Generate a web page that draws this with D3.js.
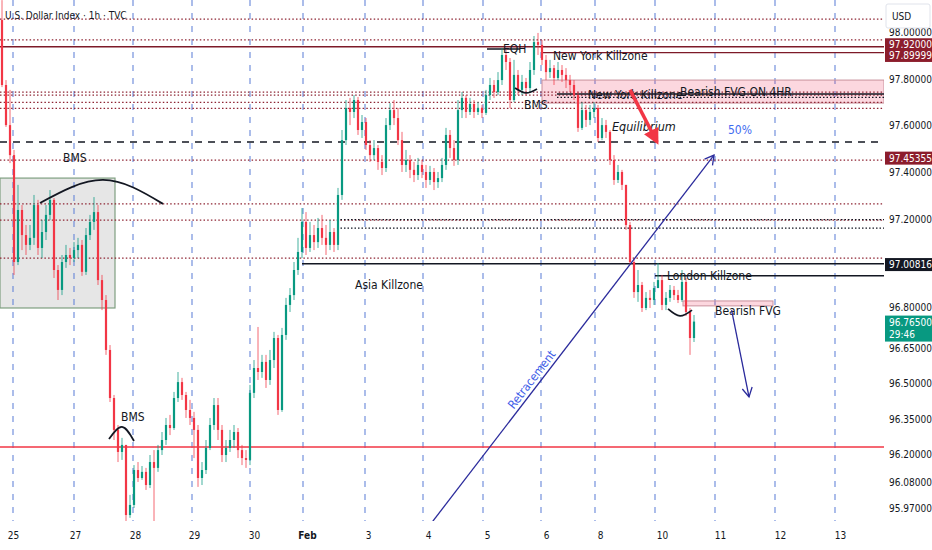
<!DOCTYPE html>
<html><head><meta charset="utf-8">
<script src="https://cdn.jsdelivr.net/npm/d3@7"></script>
<style>
body{margin:0;background:#fff}
svg{display:block}
text{font-family:"Liberation Sans Narrow","DejaVu Sans Condensed","Roboto",sans-serif}
</style>
</head><body>
<svg id="c" width="932" height="550"></svg>
<script>
// ---------- DATA ----------
const title = "U.S. Dollar Index · 1h · TVC";
const firstOpen = 98.051;
const closeP = [97.774,97.603,97.475,97.019,97.241,97.134,97.092,97.122,97.262,97.079,97.147,97.220,97.284,96.985,96.900,97.019,97.049,97.036,97.070,97.092,
96.977,97.134,97.190,97.232,96.942,96.857,96.644,96.439,96.303,96.209,96.239,95.940,95.983,96.132,96.098,96.124,96.068,96.166,96.141,96.217,
96.260,96.324,96.311,96.439,96.507,96.452,96.388,96.354,96.303,96.098,96.132,96.226,96.324,96.409,96.303,96.196,96.226,96.260,96.294,96.217,
96.183,96.175,96.461,96.567,96.550,96.593,96.516,96.601,96.695,96.388,96.708,96.836,96.878,96.985,97.062,97.190,97.079,97.134,97.104,97.164,
97.122,97.092,97.147,97.092,97.305,97.539,97.676,97.659,97.710,97.582,97.616,97.518,97.475,97.505,97.446,97.420,97.603,97.667,97.633,97.539,
97.433,97.454,97.412,97.390,97.433,97.403,97.369,97.403,97.360,97.377,97.433,97.561,97.505,97.454,97.667,97.719,97.659,97.693,97.659,97.676,
97.655,97.731,97.774,97.744,97.795,97.902,97.872,97.710,97.817,97.753,97.787,97.761,97.838,97.957,97.945,97.881,97.829,97.846,97.804,97.838,
97.817,97.795,97.774,97.731,97.591,97.667,97.625,97.659,97.676,97.548,97.603,97.574,97.454,97.369,97.403,97.348,97.177,97.019,96.891,96.921,
96.823,96.866,96.857,96.908,96.942,96.836,96.866,96.900,96.878,96.857,96.934,96.806,96.695,96.765];
const highP = [98.136,97.795,97.753,97.497,97.348,97.262,97.177,97.177,97.305,97.284,97.198,97.262,97.326,97.292,97.006,97.049,97.092,97.079,97.104,97.122,
97.113,97.164,97.220,97.296,97.262,96.964,96.878,96.665,96.452,96.324,96.269,96.217,96.026,96.153,96.166,96.149,96.141,96.196,96.217,96.239,
96.294,96.354,96.367,96.465,96.550,96.525,96.465,96.431,96.380,96.324,96.166,96.260,96.354,96.439,96.439,96.324,96.260,96.303,96.324,96.311,
96.239,96.217,96.495,96.601,96.742,96.623,96.623,96.644,96.721,96.708,96.738,96.866,96.908,97.019,97.122,97.249,97.232,97.190,97.177,97.207,
97.220,97.177,97.198,97.164,97.335,97.582,97.710,97.719,97.731,97.723,97.646,97.633,97.539,97.539,97.518,97.475,97.633,97.697,97.710,97.676,
97.574,97.497,97.475,97.446,97.463,97.454,97.433,97.429,97.420,97.403,97.463,97.591,97.582,97.539,97.710,97.744,97.731,97.719,97.710,97.701,
97.689,97.753,97.804,97.795,97.829,97.932,97.932,97.889,97.881,97.838,97.817,97.804,97.872,97.983,97.996,97.966,97.902,97.881,97.859,97.872,
97.859,97.846,97.817,97.795,97.744,97.701,97.689,97.689,97.701,97.689,97.633,97.625,97.582,97.475,97.433,97.412,97.348,97.190,97.036,96.985,
96.934,96.891,96.900,96.934,97.015,96.964,96.891,96.921,96.917,96.900,96.985,96.951,96.823,96.793];
const lowP = [97.765,97.595,97.441,96.964,97.006,97.070,97.049,97.070,97.092,97.049,97.036,97.113,97.198,96.951,96.857,96.878,96.994,97.006,97.019,97.036,
96.960,96.964,97.113,97.156,96.921,96.814,96.623,96.422,96.260,96.166,96.175,95.898,95.928,95.970,96.081,96.090,96.047,96.055,95.889,96.124,
96.196,96.239,96.281,96.303,96.422,96.431,96.354,96.324,96.183,96.060,96.068,96.115,96.217,96.303,96.260,96.166,96.166,96.209,96.226,96.183,
96.153,96.141,96.153,96.439,96.516,96.525,96.482,96.495,96.567,96.367,96.380,96.687,96.806,96.857,96.964,97.036,97.049,97.062,97.070,97.079,
97.092,97.049,97.070,97.062,97.070,97.284,97.518,97.603,97.633,97.561,97.548,97.497,97.446,97.454,97.412,97.390,97.403,97.582,97.603,97.518,
97.403,97.403,97.377,97.360,97.369,97.377,97.335,97.348,97.326,97.335,97.360,97.412,97.463,97.429,97.433,97.633,97.633,97.646,97.633,97.646,
97.633,97.646,97.710,97.719,97.731,97.774,97.838,97.676,97.701,97.731,97.731,97.731,97.744,97.817,97.902,97.859,97.795,97.804,97.774,97.795,
97.787,97.761,97.744,97.710,97.574,97.582,97.595,97.603,97.633,97.531,97.539,97.548,97.433,97.348,97.356,97.326,97.156,97.006,96.866,96.849,
96.806,96.814,96.823,96.836,96.921,96.814,96.814,96.849,96.857,96.844,96.849,96.789,96.623,96.678];

// x-axis day labels and their bar positions
const dayLabels = ["25","27","28","29","30","Feb","3","4","5","6","8","10","11","12","13"];
const dayLabelPos = [2.75,18.25,33.25,48,63,76.25,91.5,106.5,121.25,136,149.5,165,179.5,194.5,209.5];
const sessionLines = [2.75,18,32.75,47.5,62,75.25,90.75,105.25,120.25,134.75,148.25,163.25,178.25,193.25,208.25];

// price axis
const yTicks = [98.0,97.8,97.6,97.4,97.2,96.8,96.65,96.5,96.35,96.2,96.08,95.97];

// horizontal levels
const dottedLevels = [98.055,97.966,97.744,97.731,97.700,97.674,97.4536,97.267,97.198,97.036];
const maroonSolid = [{v:97.937,from:-0.5},{v:97.912,from:135}];
const blackSolid = [{v:97.928,from:121.25,to:129.5},{v:97.012,from:75},{v:96.960,from:163.25},{v:97.736,from:138.75}];
const blackDotted = [{v:97.200,from:83.75},{v:97.164,from:83.75},{v:97.721,from:138.75}];
const redLevel = 96.230;
const eqLevel = 97.531;

// zones
const grayBox = {i0:-0.5,i1:28.25,p0:97.377,p1:96.823};
const fvg4h = {i0:135,i1:220.5,p0:97.795,p1:97.697};
const fvg1h = {i0:170.25,i1:192.75,p0:96.853,p1:96.832};

// arcs (start, apex, end)
const arcs = [
  [[9.5,97.271],[25.25,97.369],[40.25,97.267]],
  [[26.75,96.264],[30,96.316],[33,96.256]],
  [[128.25,97.761],[131,97.740],[133.75,97.757]],
  [[166.5,96.819],[169.5,96.789],[172.5,96.814]]
];

// notes
const notes = [
  {t:"BMS",i:15.25,p:97.463},
  {t:"BMS",i:29.75,p:96.358},
  {t:"EQH",i:125.25,p:97.928},
  {t:"New York Killzone",i:137.75,p:97.898},
  {t:"BMS",i:130.5,p:97.689},
  {t:"New York Killzone",i:146.5,p:97.731},
  {t:"Bearish FVG ON 4HR",i:169.5,p:97.744},
  {t:"Asia Killzone",i:88.25,p:96.921},
  {t:"London Killzone",i:166.25,p:96.960},
  {t:"Bearish FVG",i:178.25,p:96.810}
];
const eqNote = {t:"Equilibrium",i:152.5,p:97.595};
const pctNote = {t:"50%",i:181.5,p:97.582};
const retrace = {t:"Retracement",from:[107,95.898],to:[178,97.475]};
const downArrow = {from:[182.4,96.814],to:[186.75,96.444]};
const redArrow = {from:[157,97.753],to:[163.75,97.531]};

// price labels on axis
const priceTags = [
  {t:"97.92000",v:97.937,bg:"#8c1d2c",dy:-2},
  {t:"97.89999",v:97.90,bg:"#8c1d2c",dy:0},
  {t:"97.45355",v:97.45355,bg:"#8c1d2c",dy:-2},
  {t:"97.00816",v:97.00816,bg:"#131722",dy:0}
];
const lastTag = {t:"96.76500",sub:"29:46",v:96.765};

// ---------- DRAW ----------
const PR = 884, PB = 521;
const svg = d3.select("#c");
const x = d3.scaleLinear().domain([-0.5,220.5]).range([0,PR]);
const y = d3.scaleLinear().domain([95.97,98.0]).range([508,32]);
const MAROON = "#8e2433", UP="#089981", DN="#f23645", NAVY="#2b2b9c";

const defs = svg.append("defs");
defs.append("clipPath").attr("id","clip").append("rect").attr("width",PR).attr("height",PB);
defs.append("marker").attr("id","chev").attr("viewBox","0 0 12 12").attr("refX",10).attr("refY",6)
  .attr("markerWidth",12).attr("markerHeight",12).attr("markerUnits","userSpaceOnUse").attr("orient","auto")
  .append("path").attr("d","M1,1 L10,6 L1,11").attr("fill","none").attr("stroke",NAVY).attr("stroke-width",1.3);
defs.append("marker").attr("id","redhead").attr("viewBox","0 0 10 10").attr("refX",8).attr("refY",5)
  .attr("markerWidth",16).attr("markerHeight",16).attr("markerUnits","userSpaceOnUse").attr("orient","auto")
  .append("path").attr("d","M0,0 L10,5 L0,10 Z").attr("fill",DN);

const g = svg.append("g").attr("clip-path","url(#clip)");

// gray box
g.append("rect").attr("x",x(grayBox.i0)).attr("y",y(grayBox.p0))
 .attr("width",x(grayBox.i1)-x(grayBox.i0)).attr("height",y(grayBox.p1)-y(grayBox.p0))
 .attr("fill","#e6e6e6").attr("stroke","#7f9f80").attr("stroke-width",1.2);

// session lines
g.selectAll("line.sess").data(sessionLines).join("line")
 .attr("x1",d=>x(d)).attr("x2",d=>x(d)).attr("y1",0).attr("y2",PB)
 .attr("stroke","#5d7fd8").attr("stroke-width",1.2).attr("stroke-dasharray","6,7").attr("opacity",0.85);

// pink zones
[fvg4h,fvg1h].forEach(z=>{
  g.append("rect").attr("x",x(z.i0)).attr("y",y(z.p0))
   .attr("width",x(z.i1)-x(z.i0)).attr("height",y(z.p1)-y(z.p0))
   .attr("fill","rgba(242,54,96,0.2)").attr("stroke","#c9909c").attr("stroke-width",1);
});

// dotted maroon levels
g.selectAll("line.dot").data(dottedLevels).join("line")
 .attr("x1",0).attr("x2",PR).attr("y1",d=>y(d)).attr("y2",d=>y(d))
 .attr("stroke",MAROON).attr("stroke-width",1.3).attr("stroke-dasharray","1.5,2.2");
// solid maroon
g.selectAll("line.ms").data(maroonSolid).join("line")
 .attr("x1",d=>x(d.from)).attr("x2",PR).attr("y1",d=>y(d.v)).attr("y2",d=>y(d.v))
 .attr("stroke","#7d1a28").attr("stroke-width",1.3);
// equilibrium dashed
g.append("line").attr("x1",0).attr("x2",PR).attr("y1",y(eqLevel)).attr("y2",y(eqLevel))
 .attr("stroke","#131722").attr("stroke-width",1.4).attr("stroke-dasharray","7,6");
// red level
g.append("line").attr("x1",0).attr("x2",PR).attr("y1",y(redLevel)).attr("y2",y(redLevel))
 .attr("stroke",DN).attr("stroke-width",1.6);
// black solid
g.selectAll("line.bs").data(blackSolid).join("line")
 .attr("x1",d=>x(d.from)).attr("x2",d=>d.to!==undefined?x(d.to):PR).attr("y1",d=>y(d.v)).attr("y2",d=>y(d.v))
 .attr("stroke","#131722").attr("stroke-width",1.5);
// black dotted
g.selectAll("line.bd").data(blackDotted).join("line")
 .attr("x1",d=>x(d.from)).attr("x2",PR).attr("y1",d=>y(d.v)).attr("y2",d=>y(d.v))
 .attr("stroke","#131722").attr("stroke-width",1.3).attr("stroke-dasharray","1.5,2");

// candles
const bars = closeP.map((c,i)=>({i,o:i===0?firstOpen:closeP[i-1],c,h:highP[i],l:lowP[i]}));
const cg = g.append("g");
cg.selectAll("line.w").data(bars).join("line")
 .attr("x1",d=>x(d.i)).attr("x2",d=>x(d.i))
 .attr("y1",d=>y(Math.max(d.h,d.o,d.c))).attr("y2",d=>y(Math.min(d.l,d.o,d.c)))
 .attr("stroke",d=>d.c>=d.o?UP:DN).attr("stroke-width",1).attr("opacity",0.75);
cg.selectAll("rect.b").data(bars).join("rect")
 .attr("x",d=>x(d.i)-1.1).attr("width",2.2)
 .attr("y",d=>y(Math.max(d.o,d.c)))
 .attr("height",d=>Math.max(1,Math.abs(y(d.o)-y(d.c))))
 .attr("fill",d=>d.c>=d.o?UP:DN);

// arcs
const arcLine = d3.line().x(d=>x(d[0])).y(d=>y(d[1])).curve(d3.curveNatural);
g.selectAll("path.arc").data(arcs).join("path")
 .attr("d",arcLine).attr("fill","none").attr("stroke","#131722").attr("stroke-width",1.8);

// notes
g.selectAll("text.n").data(notes).join("text")
 .attr("x",d=>x(d.i)).attr("y",d=>y(d.p)).attr("dy","0.35em")
 .attr("font-size",12).attr("fill","#131722").text(d=>d.t);
g.append("text").attr("x",x(eqNote.i)).attr("y",y(eqNote.p)).attr("dy","0.35em")
 .attr("font-size",12.5).attr("font-style","italic").attr("fill","#131722").text(eqNote.t);
g.append("text").attr("x",x(pctNote.i)).attr("y",y(pctNote.p)).attr("dy","0.35em")
 .attr("font-size",12).attr("fill","#3f6bf0").text(pctNote.t);

// red arrow
g.append("line").attr("x1",x(redArrow.from[0])).attr("y1",y(redArrow.from[1]))
 .attr("x2",x(redArrow.to[0])).attr("y2",y(redArrow.to[1]))
 .attr("stroke",DN).attr("stroke-width",3.5).attr("marker-end","url(#redhead)");

// retracement line
const rx1=x(retrace.from[0]), ry1=y(retrace.from[1]), rx2=x(retrace.to[0]), ry2=y(retrace.to[1]);
g.append("line").attr("x1",rx1).attr("y1",ry1).attr("x2",rx2).attr("y2",ry2)
 .attr("stroke",NAVY).attr("stroke-width",1.3).attr("marker-end","url(#chev)");
const ang = Math.atan2(ry2-ry1, rx2-rx1);
const tt = 0.38, off = 8;
const tx = rx1+(rx2-rx1)*tt + Math.sin(ang)*off, ty = ry1+(ry2-ry1)*tt - Math.cos(ang)*off;
g.append("text").attr("transform",`translate(${tx},${ty}) rotate(${ang*180/Math.PI})`)
 .attr("text-anchor","middle").attr("dy","0.35em").attr("font-size",12).attr("fill","#3f5ee8").text(retrace.t);

// down arrow
g.append("line").attr("x1",x(downArrow.from[0])).attr("y1",y(downArrow.from[1]))
 .attr("x2",x(downArrow.to[0])).attr("y2",y(downArrow.to[1]))
 .attr("stroke",NAVY).attr("stroke-width",1.3).attr("marker-end","url(#chev)");

// title
svg.append("text").attr("x",5).attr("y",15).attr("dy","0.35em").attr("font-size",10)
 .attr("fill","#131722").text(title);

// ---------- AXES ----------
const ya = svg.append("g").attr("transform",`translate(${PR},0)`)
 .call(d3.axisRight(y).tickValues(yTicks).tickFormat(d3.format(".5f")).tickSize(0).tickPadding(5));
ya.select(".domain").remove();
ya.selectAll("text").attr("font-size",10).attr("fill","#131722")
 .attr("font-family",'"Liberation Sans Narrow","DejaVu Sans Condensed",sans-serif');
// tick partly hidden by the last-price tag sits a little higher
ya.selectAll(".tick").filter(d=>d===96.8).select("text").attr("dy","-0.3em");

const xa = svg.append("g").attr("transform",`translate(0,${PB})`)
 .call(d3.axisBottom(x).tickValues(dayLabelPos).tickFormat((d,i)=>dayLabels[i]).tickSize(0).tickPadding(11));
xa.select(".domain").remove();
xa.selectAll("text").attr("font-size",10).attr("fill","#131722")
 .attr("font-family",'"Liberation Sans Narrow","DejaVu Sans Condensed",sans-serif')
 .attr("font-weight",(d,i)=>dayLabels[i]==="Feb"?"bold":"normal");

// USD box
svg.append("rect").attr("x",886).attr("y",4).attr("width",44).attr("height",24).attr("rx",2)
 .attr("fill","#fff").attr("stroke","#e0e3eb");
svg.append("text").attr("x",892).attr("y",16).attr("dy","0.35em").attr("font-size",10).attr("fill","#131722").text("USD");

// price tags
const tg = svg.append("g");
priceTags.forEach(p=>{
  const cy = y(p.v)+p.dy;
  tg.append("rect").attr("x",PR+1).attr("y",cy-6.5).attr("width",47).attr("height",13).attr("fill",p.bg);
  tg.append("text").attr("x",PR+5).attr("y",cy).attr("dy","0.35em").attr("font-size",10).attr("fill","#fff").text(p.t);
});
const ly = y(lastTag.v);
tg.append("rect").attr("x",PR+1).attr("y",ly-6).attr("width",47).attr("height",26).attr("fill",UP);
tg.append("text").attr("x",PR+5).attr("y",ly+1).attr("dy","0.35em").attr("font-size",10).attr("fill","#fff").text(lastTag.t);
tg.append("text").attr("x",PR+5).attr("y",ly+13).attr("dy","0.35em").attr("font-size",10).attr("fill","#fff").text(lastTag.sub);
</script>
</body></html>
